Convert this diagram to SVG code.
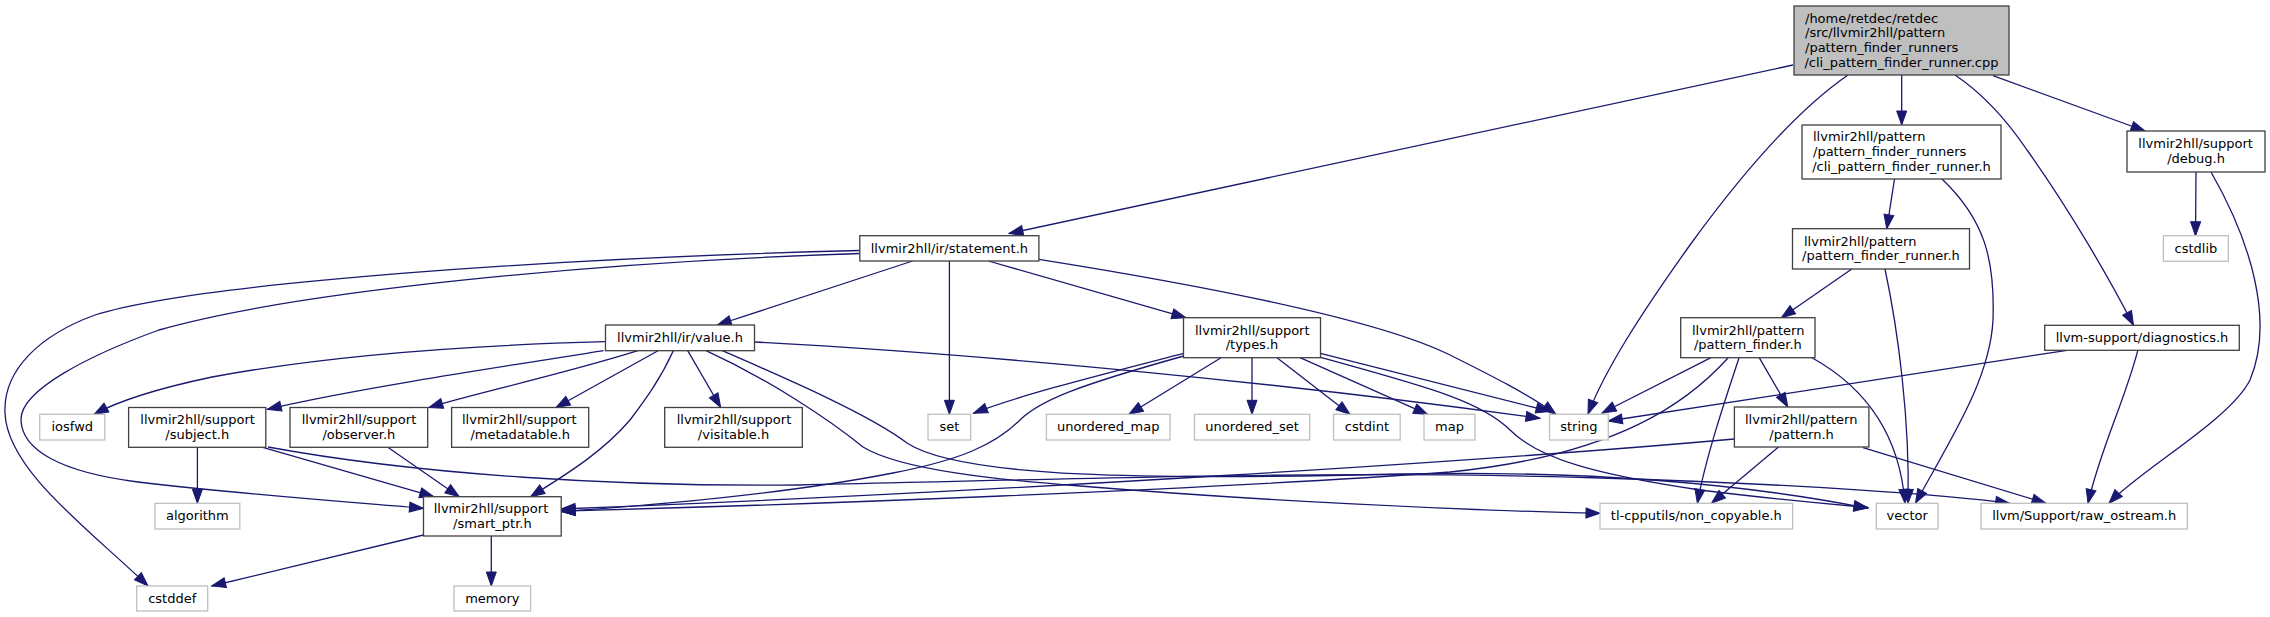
<svg xmlns="http://www.w3.org/2000/svg" width="2270" height="617" viewBox="0 0 2270 617">
<style>
text{font-family:"DejaVu Sans","Liberation Sans",sans-serif;font-size:13px;fill:#000}
.n rect{fill:#fff;stroke:#404040;stroke-width:1.3}
.g rect{fill:#fff;stroke:#bfbfbf;stroke-width:1.3}
.root rect{fill:#bfbfbf;stroke:#404040;stroke-width:1.3}
.m{text-anchor:middle}
#edges path{fill:none;stroke:#191970;stroke-width:1.3;marker-end:url(#a)}
</style>
<defs>
<marker id="a" markerUnits="userSpaceOnUse" markerWidth="16" markerHeight="12" refX="14" refY="5" orient="auto" overflow="visible">
<path d="M0,0 L14,5 L0,10 z" fill="#191970" stroke="#191970" stroke-width="1"/>
</marker>
</defs>
<rect width="2270" height="617" fill="#fff"/>
<g id="edges">
<path d="M1793,65 L1009,233.5"/>
<path d="M1901.7,75 L1901.7,125"/>
<path d="M1848,75 C1790,115 1730,190 1690,245 C1640,315 1605,370 1588,414"/>
<path d="M1955,75 C1985,95 2010,125 2027,150 C2070,210 2110,280 2133.5,325.3"/>
<path d="M1993,75.7 L2145,131"/>
<path d="M1894.5,179 L1886.8,228.7"/>
<path d="M1942,179 C1985,220 1995,260 1993,320 C1990,380 1950,440 1915.5,503.3"/>
<path d="M1851.8,269 L1781.4,317.7"/>
<path d="M1885,269 C1898,330 1910,420 1908,503.3"/>
<path d="M1711,357.7 L1602,413"/>
<path d="M1759.2,357.7 L1787.8,407"/>
<path d="M1728,358 C1690,400 1620,455 1450,472 C1200,490 800,505 561.2,511"/>
<path d="M1739,358 C1725,400 1705,460 1697.4,503.3"/>
<path d="M1812,357.7 C1870,390 1900,440 1905,503.3"/>
<path d="M1734.4,439 C1500,460 1000,492 561.2,509"/>
<path d="M1778.5,447 L1711.5,503.3"/>
<path d="M1863,447.7 L2046,503.3"/>
<path d="M2196,172 L2195.5,235.7"/>
<path d="M2211,172 C2250,240 2275,320 2250,380 C2230,420 2140,470 2109,503.3"/>
<path d="M2067,350.3 L1608.3,421"/>
<path d="M2137.8,350.3 C2125,400 2100,450 2088,503.3"/>
<path d="M912.6,261 L717.3,325"/>
<path d="M949.4,261 L949.4,414.3"/>
<path d="M988.4,261 L1185.8,317.7"/>
<path d="M1039,259.3 C1200,285 1380,320 1450,355 C1490,375 1530,395 1556,414.3"/>
<path d="M859.8,253.5 C600,262 300,290 159,330 C90,355 20,390 21,420 C22,450 60,472 138,482 C250,495 350,502 423.5,508.3"/>
<path d="M859.8,250.5 C560,258 200,282 95,315 C40,335 3,370 5,413 C7,470 90,530 148,586"/>
<path d="M605,341.7 C480,345 330,355 212,377 C160,388 120,400 94.2,414.3"/>
<path d="M603.5,350.7 C480,370 350,390 267.3,409.3"/>
<path d="M638,350.7 C560,375 480,392 428.8,407.5"/>
<path d="M658,350.7 L556,407.5"/>
<path d="M687.7,350.7 L720.7,407.5"/>
<path d="M673.3,350.7 C660,380 645,400 630,420 C600,455 560,478 530.6,496.7"/>
<path d="M706,350.7 C770,380 830,420 863,447 C900,470 1000,480 1080,486 C1250,500 1450,510 1600,513.3"/>
<path d="M722.3,350.7 C790,380 870,415 907,443 C960,478 1150,480 1400,474 C1600,470 1750,485 1868,508.3"/>
<path d="M754.7,342 C1000,355 1300,385 1540,418.3"/>
<path d="M1183.7,353.3 C1100,375 1020,395 973.5,413.3"/>
<path d="M1183.7,356 C1080,385 1040,400 1020,420 C995,445 960,460 893,473 C780,495 650,505 561.2,511.7"/>
<path d="M1221,357.7 L1129,414.3"/>
<path d="M1252,357.7 L1252,414.3"/>
<path d="M1277,357.7 L1350,414.3"/>
<path d="M1300,357.7 L1427.6,414.3"/>
<path d="M1320.4,353.3 L1550,411.5"/>
<path d="M1320.4,357.3 C1420,385 1480,400 1510,430 C1540,460 1600,475 1700,490 C1780,500 1840,505 1868,507.5"/>
<path d="M197.4,447.3 L197.4,503.3"/>
<path d="M262.8,447.3 L433.7,496.7"/>
<path d="M268,447 C420,475 620,487 800,485 C1100,478 1350,470 1600,478 C1800,484 1950,495 2009.6,503.3"/>
<path d="M387.8,447.3 L459.2,496.7"/>
<path d="M423.5,535 L211.7,586"/>
<path d="M491.3,536 L491.3,586"/>
</g>
<g id="root" class="root"><rect x="1794" y="6" width="215" height="69"/>
<text x="1805" y="22.5">/home/retdec/retdec</text><text x="1805" y="37.3">/src/llvmir2hll/pattern</text><text x="1805" y="52.1">/pattern_finder_runners</text><text class="m" x="1901.5" y="66.9">/cli_pattern_finder_runner.cpp</text></g>
<g id="cli_h" class="n"><rect x="1802" y="125" width="199" height="54"/>
<text x="1813" y="141.4">llvmir2hll/pattern</text><text x="1813" y="156.2">/pattern_finder_runners</text><text class="m" x="1901.5" y="171">/cli_pattern_finder_runner.h</text></g>
<g id="debug" class="n"><rect x="2127" y="131" width="138" height="41"/>
<text x="2138.3" y="148.3">llvmir2hll/support</text><text class="m" x="2196" y="163.1">/debug.h</text></g>
<g id="pfr" class="n"><rect x="1792.5" y="228.7" width="177" height="40.3"/>
<text x="1804" y="245.6">llvmir2hll/pattern</text><text class="m" x="1881" y="260.4">/pattern_finder_runner.h</text></g>
<g id="pf" class="n"><rect x="1680.7" y="317.7" width="134.3" height="40"/>
<text x="1692" y="334.5">llvmir2hll/pattern</text><text class="m" x="1747.9" y="349.3">/pattern_finder.h</text></g>
<g id="pattern" class="n"><rect x="1734.4" y="407" width="134.5" height="40"/>
<text x="1745" y="423.8">llvmir2hll/pattern</text><text class="m" x="1801.6" y="438.6">/pattern.h</text></g>
<g id="diagnostics" class="n"><rect x="2044.7" y="325.3" width="194.6" height="25"/>
<text class="m" x="2142" y="342">llvm-support/diagnostics.h</text></g>
<g id="statement" class="n"><rect x="859.8" y="235.7" width="179.1" height="25.3"/>
<text class="m" x="949.4" y="252.5">llvmir2hll/ir/statement.h</text></g>
<g id="types" class="n"><rect x="1183.5" y="317.7" width="137" height="40"/>
<text x="1195" y="334.5">llvmir2hll/support</text><text class="m" x="1252" y="349.3">/types.h</text></g>
<g id="value" class="n"><rect x="605.5" y="325" width="149" height="25.7"/>
<text class="m" x="680" y="342">llvmir2hll/ir/value.h</text></g>
<g id="subject" class="n"><rect x="128.6" y="407.5" width="137.2" height="39.8"/>
<text x="140.3" y="424.2">llvmir2hll/support</text><text class="m" x="197.2" y="439">/subject.h</text></g>
<g id="observer" class="n"><rect x="290" y="407.5" width="137.7" height="39.8"/>
<text x="301.7" y="424.2">llvmir2hll/support</text><text class="m" x="358.9" y="439">/observer.h</text></g>
<g id="metadatable" class="n"><rect x="451.6" y="407.5" width="137.1" height="39.8"/>
<text x="462" y="424.2">llvmir2hll/support</text><text class="m" x="520.2" y="439">/metadatable.h</text></g>
<g id="visitable" class="n"><rect x="664.7" y="407.5" width="137.6" height="39.8"/>
<text x="676.7" y="424.2">llvmir2hll/support</text><text class="m" x="733.5" y="439">/visitable.h</text></g>
<g id="smart_ptr" class="n"><rect x="423.5" y="496.7" width="137.7" height="39.3"/>
<text x="433.7" y="513.2">llvmir2hll/support</text><text class="m" x="492.4" y="528">/smart_ptr.h</text></g>
<g id="iosfwd" class="g"><rect x="39.7" y="414.3" width="65.1" height="25.7"/><text class="m" x="72.3" y="431.4">iosfwd</text></g>
<g id="algorithm" class="g"><rect x="155" y="503.3" width="84.8" height="25.7"/><text class="m" x="197.4" y="520.4">algorithm</text></g>
<g id="cstddef" class="g"><rect x="136.7" y="586" width="71" height="25"/><text class="m" x="172.2" y="602.7">cstddef</text></g>
<g id="memory" class="g"><rect x="454" y="586" width="76.6" height="25"/><text class="m" x="492.3" y="602.7">memory</text></g>
<g id="set" class="g"><rect x="928" y="414.3" width="42.7" height="25.7"/><text class="m" x="949.4" y="431.4">set</text></g>
<g id="unordered_map" class="g"><rect x="1046.4" y="414.3" width="123.6" height="25.7"/><text class="m" x="1108.2" y="431.4">unordered_map</text></g>
<g id="unordered_set" class="g"><rect x="1194.5" y="414.3" width="115.2" height="25.7"/><text class="m" x="1252.1" y="431.4">unordered_set</text></g>
<g id="cstdint" class="g"><rect x="1333.5" y="414.3" width="66.7" height="25.7"/><text class="m" x="1366.9" y="431.4">cstdint</text></g>
<g id="map" class="g"><rect x="1424" y="414.3" width="51" height="25.7"/><text class="m" x="1449.5" y="431.4">map</text></g>
<g id="string" class="g"><rect x="1549.5" y="414.3" width="58.8" height="25.7"/><text class="m" x="1578.9" y="431.4">string</text></g>
<g id="cstdlib" class="g"><rect x="2163.4" y="235.7" width="64.9" height="25.6"/><text class="m" x="2195.9" y="252.7">cstdlib</text></g>
<g id="non_copyable" class="g"><rect x="1600" y="503.3" width="192.6" height="25.7"/><text class="m" x="1696.3" y="520.4">tl-cpputils/non_copyable.h</text></g>
<g id="vector" class="g"><rect x="1876.3" y="503.3" width="61.7" height="25.7"/><text class="m" x="1907.2" y="520.4">vector</text></g>
<g id="raw_ostream" class="g"><rect x="1981" y="503.3" width="206.4" height="25.7"/><text class="m" x="2084.2" y="520.4">llvm/Support/raw_ostream.h</text></g>
</svg>
